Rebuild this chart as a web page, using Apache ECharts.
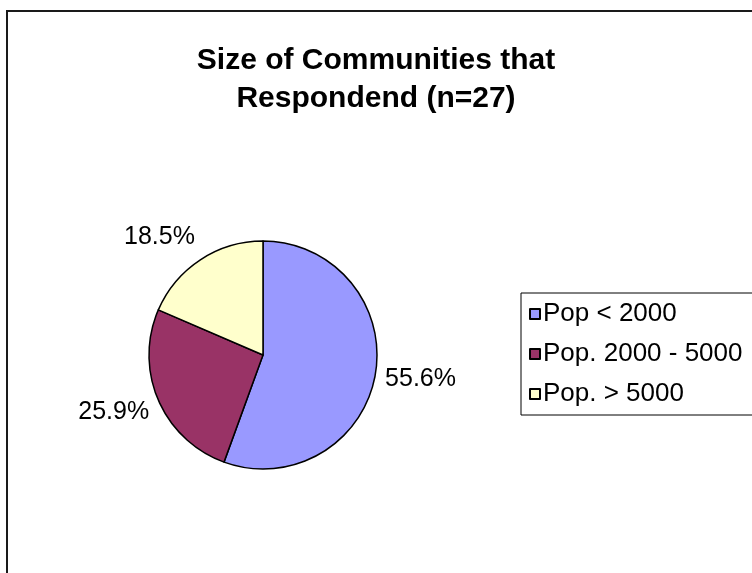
<!DOCTYPE html>
<html>
<head>
<meta charset="utf-8">
<script src="https://cdn.jsdelivr.net/npm/echarts@6/dist/echarts.min.js"></script>
<style>
  html, body { margin: 0; padding: 0; background: #fff; }
  #chart { width: 752px; height: 573px; }
</style>
</head>
<body>
<div id="chart"></div>
<script>
// Community size groups and number of responding communities (n = 27)
const categories = ['Pop < 2000', 'Pop. 2000 - 5000', 'Pop. > 5000'];
const counts = [15, 7, 5];
const sliceColors = ['#9999FF', '#993366', '#FFFFCC'];
const titleLines = ['Size of Communities that', 'Respondend (n=27)'];

const FONT = '"Liberation Sans", Arial, sans-serif';
const PIE_CX = 263, PIE_CY = 355, PIE_R = 114;
const LABEL_GAP = 10;
const LABEL_SIZE = 25;

const total = counts.reduce((a, b) => a + b, 0);

// mid-angle direction of each slice (clockwise from 12 o'clock)
const midDirs = (() => {
  let acc = 0;
  return counts.map(v => {
    const mid = (acc + v / 2) / total * Math.PI * 2;
    acc += v;
    return { x: Math.sin(mid), y: -Math.cos(mid) };
  });
})();

const clamp = (v, lo, hi) => Math.max(lo, Math.min(hi, v));

const chart = echarts.init(document.getElementById('chart'), null, { renderer: 'canvas' });

chart.setOption({
  animation: false,
  backgroundColor: '#ffffff',
  graphic: [{
    type: 'rect',
    shape: { x: 7, y: 11, width: 820, height: 620 },
    style: { fill: 'none', stroke: '#1a1a1a', lineWidth: 2 },
    silent: true,
    z: -1
  }],
  title: {
    text: titleLines.join('\n'),
    left: 'center',
    top: 37,
    textStyle: {
      fontFamily: FONT,
      fontSize: 30,
      fontWeight: 'bold',
      color: '#000',
      lineHeight: 38
    }
  },
  legend: {
    orient: 'vertical',
    left: 521,
    top: 293,
    icon: 'rect',
    itemWidth: 10,
    itemHeight: 10,
    itemGap: 14,
    padding: [8, 20, 8, 8],
    borderColor: '#000',
    borderWidth: 1,
    selectedMode: false,
    textStyle: { fontFamily: FONT, fontSize: 26, color: '#000', padding: [0, 0, 0, -2] },
    data: categories
  },
  series: [{
    type: 'pie',
    center: [PIE_CX, PIE_CY],
    radius: PIE_R,
    startAngle: 90,
    clockwise: true,
    data: categories.map((name, i) => ({
      name,
      value: counts[i],
      itemStyle: { color: sliceColors[i] }
    })),
    itemStyle: { borderColor: '#000', borderWidth: 1.5 },
    emphasis: { disabled: true },
    label: {
      show: true,
      position: 'outside',
      fontFamily: FONT,
      fontSize: LABEL_SIZE,
      color: '#000',
      formatter: p => (p.value / total * 100).toFixed(1) + '%'
    },
    labelLine: { show: false },
    // place each label just outside its slice, the nearest corner facing the pie
    labelLayout: params => {
      const d = midDirs[params.dataIndex];
      const w = params.labelRect.width, h = LABEL_SIZE;
      const px = PIE_CX + d.x * (PIE_R + LABEL_GAP);
      const py = PIE_CY + d.y * (PIE_R + LABEL_GAP);
      return {
        x: px + (w / 2) * clamp(d.x * 2, -1, 1),
        y: py + (h / 2) * clamp(d.y * 2, -1, 1) - 2,
        align: 'center',
        verticalAlign: 'middle'
      };
    }
  }]
});
</script>
</body>
</html>
